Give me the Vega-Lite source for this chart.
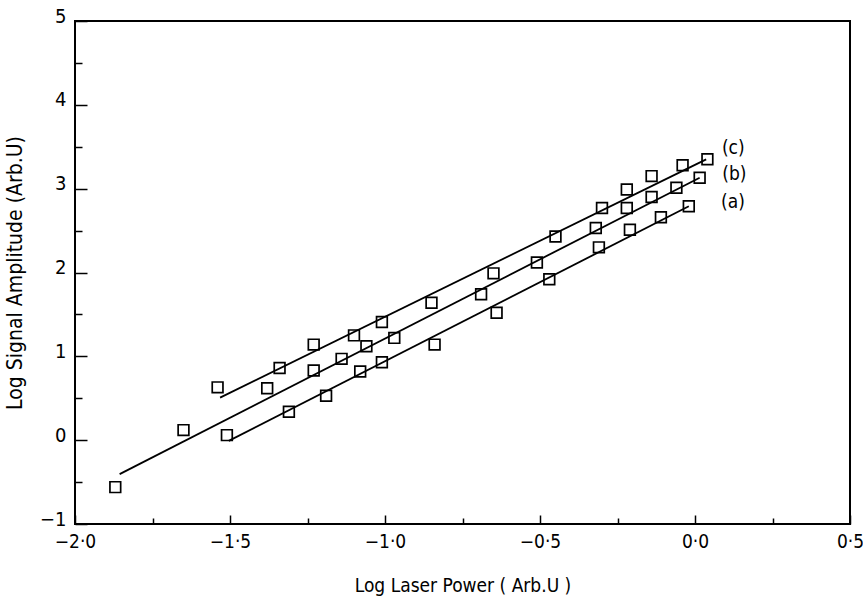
{
  "$schema": "https://vega.github.io/schema/vega-lite/v6.json",
  "width": 775,
  "height": 503,
  "autosize": "none",
  "padding": {"left": 75, "top": 21, "right": 13, "bottom": 84},
  "background": "white",
  "config": {
    "view": {"stroke": "black", "strokeWidth": 2},
    "font": "DejaVu Sans Condensed"
  },
  "datasets": {
    "points": [
      {"series": "b", "x": -1.87, "y": -0.56},
      {"series": "b", "x": -1.65, "y": 0.12},
      {"series": "b", "x": -1.38, "y": 0.62},
      {"series": "b", "x": -1.23, "y": 0.83},
      {"series": "b", "x": -1.14, "y": 0.97},
      {"series": "b", "x": -1.06, "y": 1.12},
      {"series": "b", "x": -0.97, "y": 1.22},
      {"series": "b", "x": -0.69, "y": 1.74},
      {"series": "b", "x": -0.51, "y": 2.12},
      {"series": "b", "x": -0.32, "y": 2.53},
      {"series": "b", "x": -0.22, "y": 2.77},
      {"series": "b", "x": -0.14, "y": 2.9},
      {"series": "b", "x": -0.06, "y": 3.01},
      {"series": "b", "x": 0.015, "y": 3.13},
      {"series": "c", "x": -1.54, "y": 0.63},
      {"series": "c", "x": -1.34, "y": 0.86},
      {"series": "c", "x": -1.23, "y": 1.14},
      {"series": "c", "x": -1.1, "y": 1.25},
      {"series": "c", "x": -1.01, "y": 1.41},
      {"series": "c", "x": -0.85, "y": 1.64},
      {"series": "c", "x": -0.65, "y": 1.99},
      {"series": "c", "x": -0.45, "y": 2.43},
      {"series": "c", "x": -0.3, "y": 2.77},
      {"series": "c", "x": -0.22, "y": 2.99},
      {"series": "c", "x": -0.14, "y": 3.15},
      {"series": "c", "x": -0.04, "y": 3.28},
      {"series": "c", "x": 0.04, "y": 3.35},
      {"series": "a", "x": -1.51, "y": 0.06},
      {"series": "a", "x": -1.31, "y": 0.34},
      {"series": "a", "x": -1.19, "y": 0.53},
      {"series": "a", "x": -1.08, "y": 0.82},
      {"series": "a", "x": -1.01, "y": 0.93},
      {"series": "a", "x": -0.84, "y": 1.14},
      {"series": "a", "x": -0.64, "y": 1.52},
      {"series": "a", "x": -0.47, "y": 1.92},
      {"series": "a", "x": -0.31, "y": 2.3},
      {"series": "a", "x": -0.21, "y": 2.51},
      {"series": "a", "x": -0.11, "y": 2.66},
      {"series": "a", "x": -0.02, "y": 2.79}
    ],
    "lines": [
      {"series": "b", "x": -1.856, "y": -0.405},
      {"series": "b", "x": 0.015, "y": 3.13},
      {"series": "c", "x": -1.532, "y": 0.508},
      {"series": "c", "x": 0.036, "y": 3.35},
      {"series": "a", "x": -1.504, "y": -0.008},
      {"series": "a", "x": -0.02, "y": 2.79}
    ],
    "labels": [
      {"label": "(c)", "x": 0.132, "y": 3.48},
      {"label": "(b)", "x": 0.133, "y": 3.18},
      {"label": "(a)", "x": 0.129, "y": 2.84}
    ]
  },
  "layer": [
    {
      "data": {"name": "lines"},
      "mark": {"type": "line", "color": "black", "strokeWidth": 1.8},
      "encoding": {
        "x": {"field": "x", "type": "quantitative", "scale": {"domain": [-2, 0.5], "nice": false, "zero": false}},
        "y": {"field": "y", "type": "quantitative", "scale": {"domain": [-1, 5], "nice": false, "zero": false}},
        "detail": {"field": "series"}
      }
    },
    {
      "data": {"name": "points"},
      "mark": {"type": "point", "shape": "square", "filled": false, "size": 115, "stroke": "black", "strokeWidth": 1.7, "opacity": 1},
      "encoding": {
        "x": {
          "field": "x", "type": "quantitative",
          "scale": {"domain": [-2, 0.5], "nice": false, "zero": false},
          "axis": {
            "title": "Log  Laser  Power ( Arb.U )",
            "titleFont": "DejaVu Sans Condensed", "titleFontSize": 19, "titleFontWeight": "normal", "titleColor": "black",
            "titlePadding": 22,
            "values": [-2, -1.75, -1.5, -1.25, -1, -0.75, -0.5, -0.25, 0, 0.25, 0.5],
            "labelExpr": "abs(datum.value*2 - round(datum.value*2)) < 0.001 ? replace(format(datum.value, '.1f'), '.', '·') : ''",
            "labelFont": "DejaVu Sans Condensed", "labelFontSize": 19, "labelColor": "black",
            "labelPadding": 17, "labelFlush": false, "labelOverlap": false,
            "grid": false, "domain": false,
            "tickColor": "black", "tickWidth": 1.5,
            "tickSize": {"condition": {"test": "abs(datum.value*2 - round(datum.value*2)) < 0.001", "value": -9}, "value": -6}
          }
        },
        "y": {
          "field": "y", "type": "quantitative",
          "scale": {"domain": [-1, 5], "nice": false, "zero": false},
          "axis": {
            "title": "Log Signal Amplitude (Arb.U)",
            "titleFont": "DejaVu Sans Condensed", "titleFontSize": 21, "titleFontWeight": "normal", "titleColor": "black",
            "titlePadding": 14,
            "values": [-1, -0.5, 0, 0.5, 1, 1.5, 2, 2.5, 3, 3.5, 4, 4.5, 5],
            "labelExpr": "abs(datum.value - round(datum.value)) < 0.001 ? format(datum.value, 'd') : ''",
            "labelFont": "DejaVu Sans Condensed", "labelFontSize": 20, "labelColor": "black",
            "labelPadding": 21, "labelOffset": -5, "labelFlush": false, "labelOverlap": false,
            "grid": false, "domain": false,
            "tickColor": "black", "tickWidth": 1.5,
            "tickSize": {"condition": {"test": "abs(datum.value - round(datum.value)) < 0.001", "value": -12}, "value": -7}
          }
        }
      }
    },
    {
      "data": {"name": "labels"},
      "mark": {"type": "text", "font": "DejaVu Sans Condensed", "fontSize": 19, "color": "black", "align": "left", "baseline": "middle", "dx": -14},
      "encoding": {
        "x": {"field": "x", "type": "quantitative"},
        "y": {"field": "y", "type": "quantitative"},
        "text": {"field": "label"}
      }
    }
  ]
}
